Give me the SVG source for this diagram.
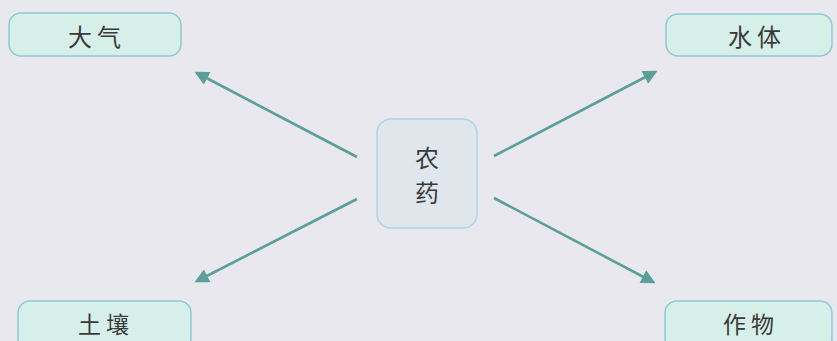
<svg xmlns="http://www.w3.org/2000/svg" width="837" height="341" viewBox="0 0 837 341">
<defs>
<style>
.leaf{fill:#d7efe9;stroke:#8dc9d3;stroke-width:1.5}
.hub{fill:#dfe7ed;stroke:#b3d3e6;stroke-width:1.5}
.t{font-family:"Noto Sans CJK SC","Noto Sans CJK JP",sans-serif;font-size:24px;fill:#3a3a3a;text-anchor:middle;dominant-baseline:central;letter-spacing:5px}
.v{letter-spacing:0}
.b{font-size:23px}
.c{stroke:#5c9f9a;stroke-width:2.6;fill:none;marker-end:url(#ah)}
</style>
<marker id="ah" viewBox="0 0 10 10" refX="8" refY="5" markerWidth="6" markerHeight="5.5" orient="auto" markerUnits="strokeWidth">
<path d="M0,0 L10,5 L0,10 z" fill="#5c9f9a"/>
</marker>
</defs>
<rect width="837" height="341" fill="#e8e8ee"/>
<g id="connectors">
<line class="c" x1="357" y1="157" x2="197" y2="73"/>
<line class="c" x1="494" y1="156" x2="655" y2="72"/>
<line class="c" x1="357" y1="199" x2="197" y2="281"/>
<line class="c" x1="494" y1="198" x2="653" y2="282"/>
</g>
<g id="node-center">
<rect class="hub" x="377" y="119" width="100" height="109" rx="14"/>
<text class="t v" x="427" y="156">农</text>
<text class="t v" x="427" y="191">药</text>
</g>
<g id="node-daqi">
<rect class="leaf" x="9" y="13" width="172" height="43" rx="12"/>
<text class="t" x="97" y="35">大气</text>
</g>
<g id="node-shuiti">
<rect class="leaf" x="666" y="14" width="166" height="42" rx="12"/>
<text class="t" x="757" y="35">水体</text>
</g>
<g id="node-turang">
<rect class="leaf" x="18" y="301" width="173" height="50" rx="12"/>
<text class="t b" x="106" y="323">土壤</text>
</g>
<g id="node-zuowu">
<rect class="leaf" x="665" y="301" width="167" height="50" rx="12"/>
<text class="t b" x="751" y="323">作物</text>
</g>
</svg>
